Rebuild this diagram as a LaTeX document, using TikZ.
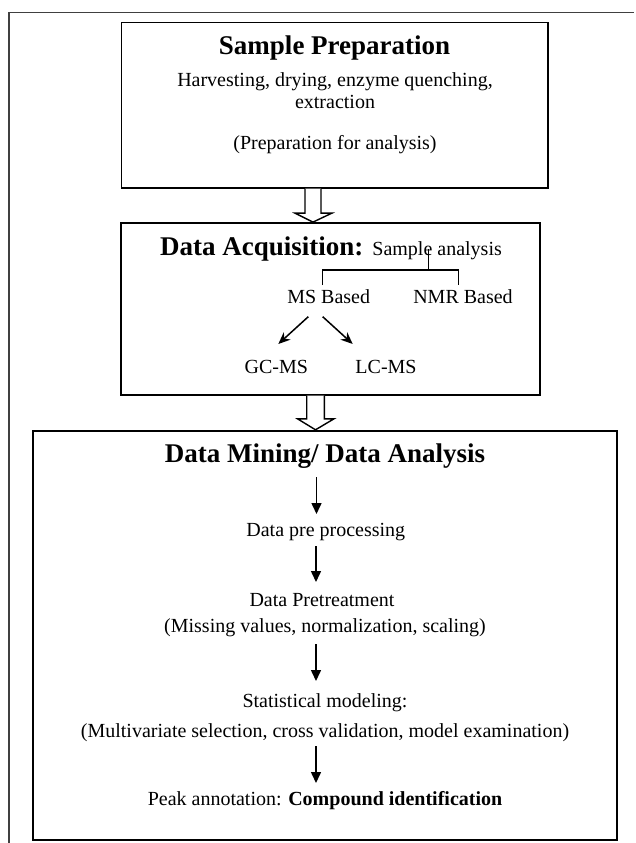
\documentclass[tikz,border=0pt]{standalone}
\usepackage{fontspec}
\setmainfont{Liberation Serif}
\usetikzlibrary{arrows.meta,calc}
\begin{document}
\begin{tikzpicture}[x=1pt,y=-1pt,
 box/.style={draw,line width=1.8pt,inner sep=0pt},
 frame/.style={draw=black!75,line width=1.1pt},
 txt/.style={anchor=base,inner sep=0pt,font=\fontsize{20}{24}\selectfont},
 ttl/.style={anchor=base,inner sep=0pt,font=\fontsize{27}{32}\selectfont\bfseries},
 hollow/.style={draw,line width=1.4pt,fill=white,line join=miter},
 flow/.style={line width=1.5pt,-{Triangle[length=11pt,width=10pt]}},
 diag/.style={line width=1.5pt,-{Stealth[length=12pt,width=10pt]}},
 brk/.style={line width=1.3pt}]
\useasboundingbox (0,0) rectangle (635,843);
% outer frame (top and left only)
\coordinate (fbl) at (9,843);
\coordinate (ftl) at (9,12.5);
\coordinate (ftr) at (634,12.5);
\draw[frame] (fbl) -- (ftl) -- (ftr);
% boxes
\node[box,minimum width=426.2pt,minimum height=165.2pt] (b1) at (334.6,105.1) {};
\node[box,minimum width=419.1pt,minimum height=171.7pt] (b2) at (330.75,308.85) {};
\node[box,minimum width=584pt,minimum height=409.3pt] (b3) at (325,635.35) {};
% hollow block arrows between boxes
\coordinate (ax1) at (313,0);
\coordinate (a1top) at (b1.south -| ax1);
\coordinate (a1tip) at (b2.north -| ax1);
\draw[hollow] ([xshift=-8pt]a1top) -- ([xshift=-8pt,yshift=9pt]a1tip) -- ([xshift=-18pt,yshift=9pt]a1tip) -- (a1tip) -- ([xshift=19pt,yshift=9pt]a1tip) -- ([xshift=8pt,yshift=9pt]a1tip) -- ([xshift=8pt]a1top);
\coordinate (ax2) at (315.5,0);
\coordinate (a2top) at (b2.south -| ax2);
\coordinate (a2tip) at (b3.north -| ax2);
\draw[hollow] ([xshift=-8.8pt]a2top) -- ([xshift=-8.8pt,yshift=11pt]a2tip) -- ([xshift=-18pt,yshift=11pt]a2tip) -- (a2tip) -- ([xshift=18.5pt,yshift=11pt]a2tip) -- ([xshift=8.8pt,yshift=11pt]a2tip) -- ([xshift=8.8pt]a2top);
% box 1 texts
\node[ttl] (sp) at (334.6,55) {Sample Preparation};
\node[txt] (sp1) at (335,86) {Harvesting, drying, enzyme quenching,};
\node[txt] (sp2) at (335,108) {extraction};
\node[txt] (sp3) at (335,149) {(Preparation for analysis)};
% box 2 texts
\node[anchor=base,inner sep=0pt] (da) at (331,255) {\fontsize{27}{32}\selectfont\bfseries Data Acquisition: \fontsize{20}{24}\selectfont\mdseries Sample analysis};
\node[txt] (ms) at (328.7,303.3) {MS Based};
\node[txt] (nmr) at (463,303.3) {NMR Based};
\node[txt] (gc) at (276.3,373.3) {GC-MS};
\node[txt] (lc) at (386,373.3) {LC-MS};
% bracket
\coordinate (brtop) at (428.3,249);
\coordinate (brmid) at (428.3,270);
\coordinate (brLt) at (322.7,270);
\coordinate (brRt) at (458.3,270);
\coordinate (brL) at (322.7,285);
\coordinate (brR) at (458.3,285);
\draw[brk] (brtop) -- (brmid);
\draw[brk] (brL) -- (brLt) -- (brRt) -- (brR);
% MS arrows
\coordinate (msl) at (308.3,316.7);
\coordinate (gct) at (278.3,344);
\coordinate (msr) at (322.7,316.7);
\coordinate (lct) at (352.7,344);
\draw[diag] (msl) -- (gct);
\draw[diag] (msr) -- (lct);
% box 3 texts
\node[ttl] (dm) at (325,462) {Data Mining/ Data Analysis};
\node[txt] (dpp) at (325.8,536) {Data pre processing};
\node[txt] (dpt) at (322,606) {Data Pretreatment};
\node[txt] (mv) at (325,632) {(Missing values, normalization, scaling)};
\node[txt] (sm) at (325,707) {Statistical modeling:};
\node[txt] (mu) at (325,737) {(Multivariate selection, cross validation, model examination)};
\node[txt] (pa) at (325,805) {Peak annotation: \textbf{Compound identification}};
% flow arrows
\coordinate (f1a) at (316.5,477);
\coordinate (f1b) at (316.5,514);
\coordinate (f2a) at (316,546);
\coordinate (f2b) at (316,582);
\coordinate (f3a) at (316,644);
\coordinate (f3b) at (316,681);
\coordinate (f4a) at (316,746);
\coordinate (f4b) at (316,783);
\draw[flow] (f1a) -- (f1b);
\draw[flow] (f2a) -- (f2b);
\draw[flow] (f3a) -- (f3b);
\draw[flow] (f4a) -- (f4b);
\end{tikzpicture}
\end{document}
